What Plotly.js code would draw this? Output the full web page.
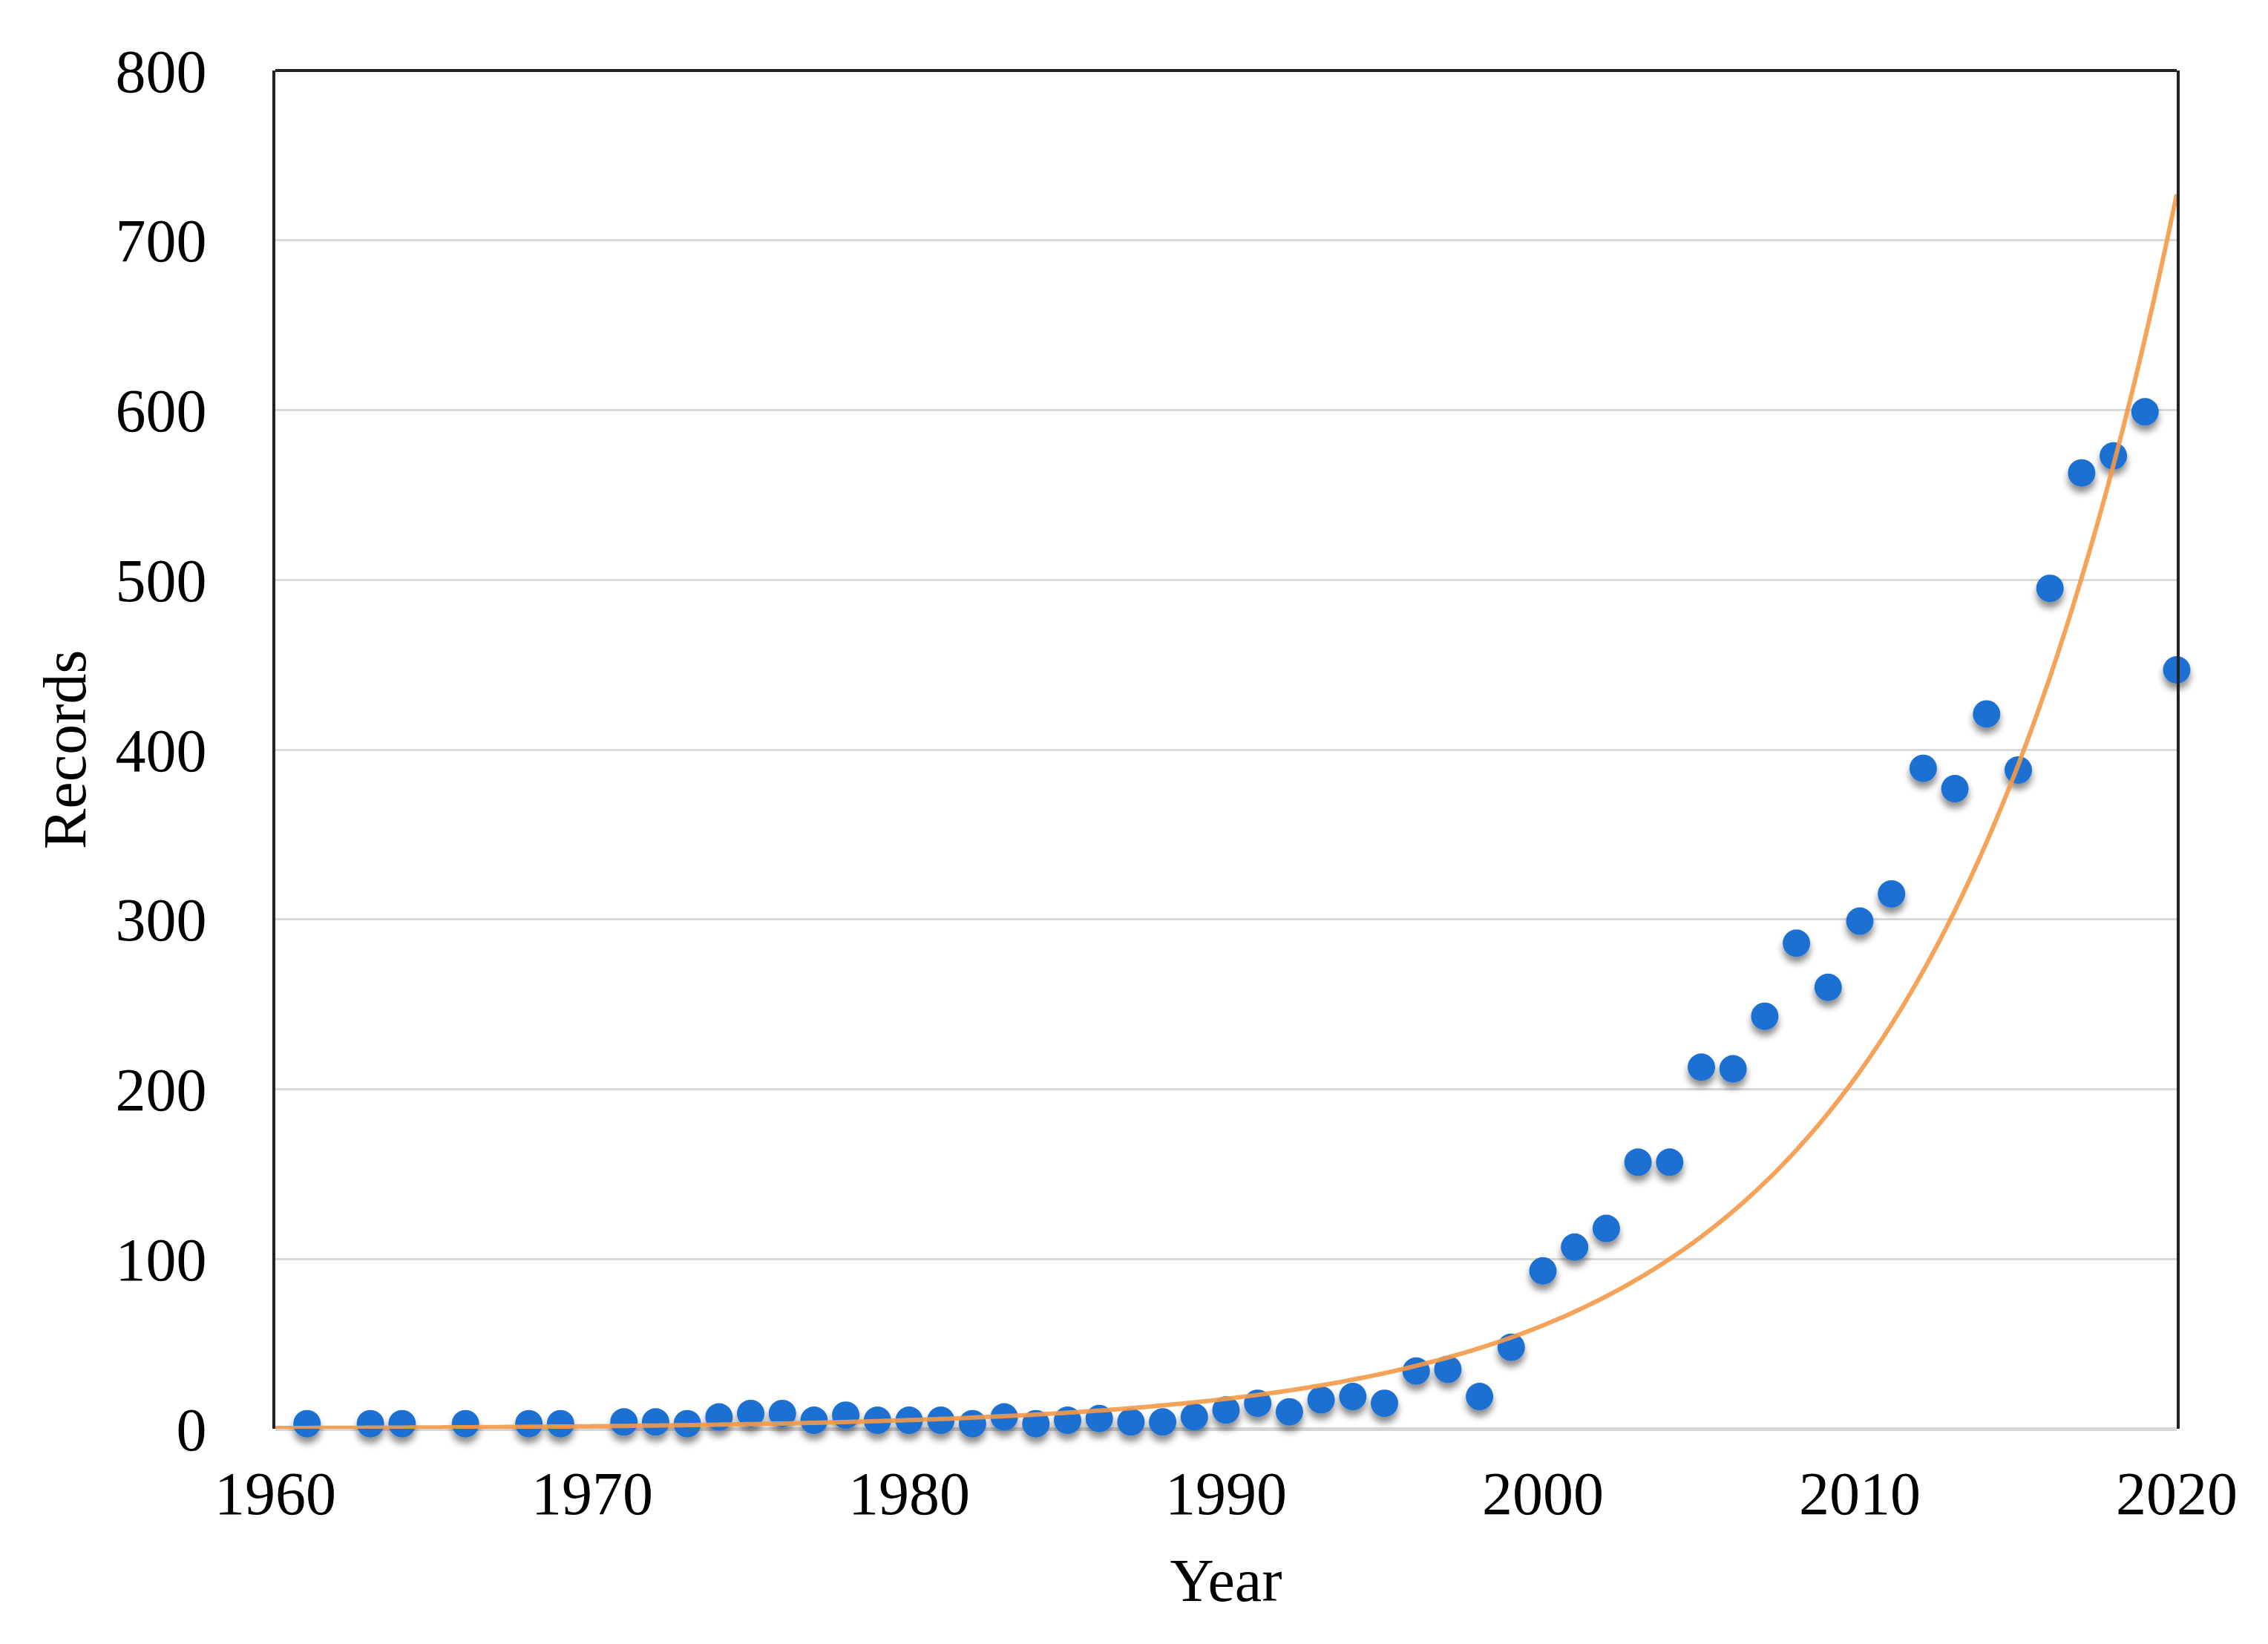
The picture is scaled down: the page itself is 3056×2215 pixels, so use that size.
<!DOCTYPE html>
<html>
<head>
<meta charset="utf-8">
<script src="https://cdn.plot.ly/plotly-3.0.1.min.js"></script>
<style>
  html, body { margin: 0; padding: 0; background: #ffffff; }
  #chart { width: 3056px; height: 2215px; }
</style>
</head>
<body>
<div id="chart"></div>
<script>
// ---- data ----
const years = [1961, 1963, 1964, 1966, 1968, 1969, 1971, 1972, 1973, 1974,
               1975, 1976, 1977, 1978, 1979, 1980, 1981, 1982, 1983, 1984,
               1985, 1986, 1987, 1988, 1989, 1990, 1991, 1992, 1993, 1994,
               1995, 1996, 1997, 1998, 1999, 2000, 2001, 2002, 2003, 2004,
               2005, 2006, 2007, 2008, 2009, 2010, 2011, 2012, 2013, 2014,
               2015, 2016, 2017, 2018, 2019, 2020];
const records = [3, 3, 3, 3, 3, 3, 4, 4, 3, 7,
                 9, 9, 5, 8, 5, 5, 5, 3, 7, 3,
                 5, 6, 4, 4, 7, 11, 15, 10, 17, 19,
                 15, 34, 35, 19, 48, 93, 107, 118, 157, 157,
                 213, 212, 243, 286, 260, 299, 315, 389, 377, 421,
                 388, 495, 563, 573, 599, 447];

// exponential trendline (as shown in the chart): y = trendA * exp(trendB * (year - trendBase))
const trendBase = 1960;
const trendA = 0.427;
const trendB = 0.124;
const trendStart = 1960;
const trendEnd = 2020;

const xTicks = [1960, 1970, 1980, 1990, 2000, 2010, 2020];
const yTicks = [0, 100, 200, 300, 400, 500, 600, 700, 800];

const xTitle = 'Year';
const yTitle = 'Records';

// ---- build trend curve from parameters ----
const trendX = [], trendY = [];
for (let i = 0; i <= 240; i++) {
  const x = trendStart + (trendEnd - trendStart) * i / 240;
  trendX.push(x);
  trendY.push(trendA * Math.exp(trendB * (x - trendBase)));
}

const font = 'Liberation Serif, Times New Roman, serif';

const traces = [
  {
    type: 'scatter', mode: 'markers',
    x: years, y: records,
    marker: { size: 37, color: '#1E6FD2', line: { width: 0 } },
    cliponaxis: false,
    showlegend: false,
    hoverinfo: 'x+y'
  },
  {
    type: 'scatter', mode: 'lines',
    x: trendX, y: trendY,
    line: { color: '#F59A48', width: 6, shape: 'spline' },
    opacity: 0.9,
    showlegend: false,
    hoverinfo: 'skip'
  }
];

const layout = {
  width: 3056, height: 2215,
  margin: { l: 371, r: 123, t: 95, b: 290 },
  paper_bgcolor: '#ffffff',
  plot_bgcolor: '#ffffff',
  font: { family: font, color: '#000000', size: 82 },
  xaxis: {
    range: [1960, 2020],
    tickmode: 'array', tickvals: xTicks,
    ticktext: xTicks.map(String),
    tickfont: { family: font, size: 82, color: '#000' },
    ticks: '', ticklabelstandoff: 32,
    showgrid: false, zeroline: false, showline: false,
    title: { text: xTitle, font: { family: font, size: 82, color: '#000' }, standoff: 42 }
  },
  yaxis: {
    range: [0, 800],
    tickmode: 'array', tickvals: yTicks,
    ticktext: yTicks.map(String),
    tickfont: { family: font, size: 82, color: '#000' },
    ticks: '', ticklabelstandoff: 72,
    showgrid: true, gridcolor: '#D9D9D9', gridwidth: 3,
    zeroline: true, zerolinecolor: '#D6D6D6', zerolinewidth: 5,
    showline: true, mirror: true, linecolor: '#222222', linewidth: 4,
    title: { text: yTitle, font: { family: font, size: 82, color: '#000' }, standoff: 14 }
  },
  shapes: [
    { type: 'line', xref: 'paper', yref: 'paper', x0: 0, x1: 1, y0: 1, y1: 1,
      line: { color: '#222222', width: 4 } }
  ],
  showlegend: false
};

function addShadow() {
  const svg = document.querySelector('#chart svg.main-svg');
  if (!svg) return;
  const ns = 'http://www.w3.org/2000/svg';
  let defs = svg.querySelector('defs');
  if (!defs) { defs = document.createElementNS(ns, 'defs'); svg.insertBefore(defs, svg.firstChild); }
  const f = document.createElementNS(ns, 'filter');
  f.setAttribute('id', 'dotShadow');
  f.setAttribute('x', '-50%'); f.setAttribute('y', '-50%');
  f.setAttribute('width', '200%'); f.setAttribute('height', '200%');
  const ds = document.createElementNS(ns, 'feDropShadow');
  ds.setAttribute('dx', '0'); ds.setAttribute('dy', '8');
  ds.setAttribute('stdDeviation', '5');
  ds.setAttribute('flood-color', '#000'); ds.setAttribute('flood-opacity', '0.45');
  f.appendChild(ds);
  defs.appendChild(f);
  const pts = document.querySelectorAll('#chart .scatterlayer .trace')[0];
  if (pts) {
    pts.querySelectorAll('path.point').forEach(function (p) { p.setAttribute('filter', 'url(#dotShadow)'); });
  }
}

Plotly.newPlot('chart', traces, layout, { staticPlot: true, displayModeBar: false }).then(addShadow);
</script>
</body>
</html>
